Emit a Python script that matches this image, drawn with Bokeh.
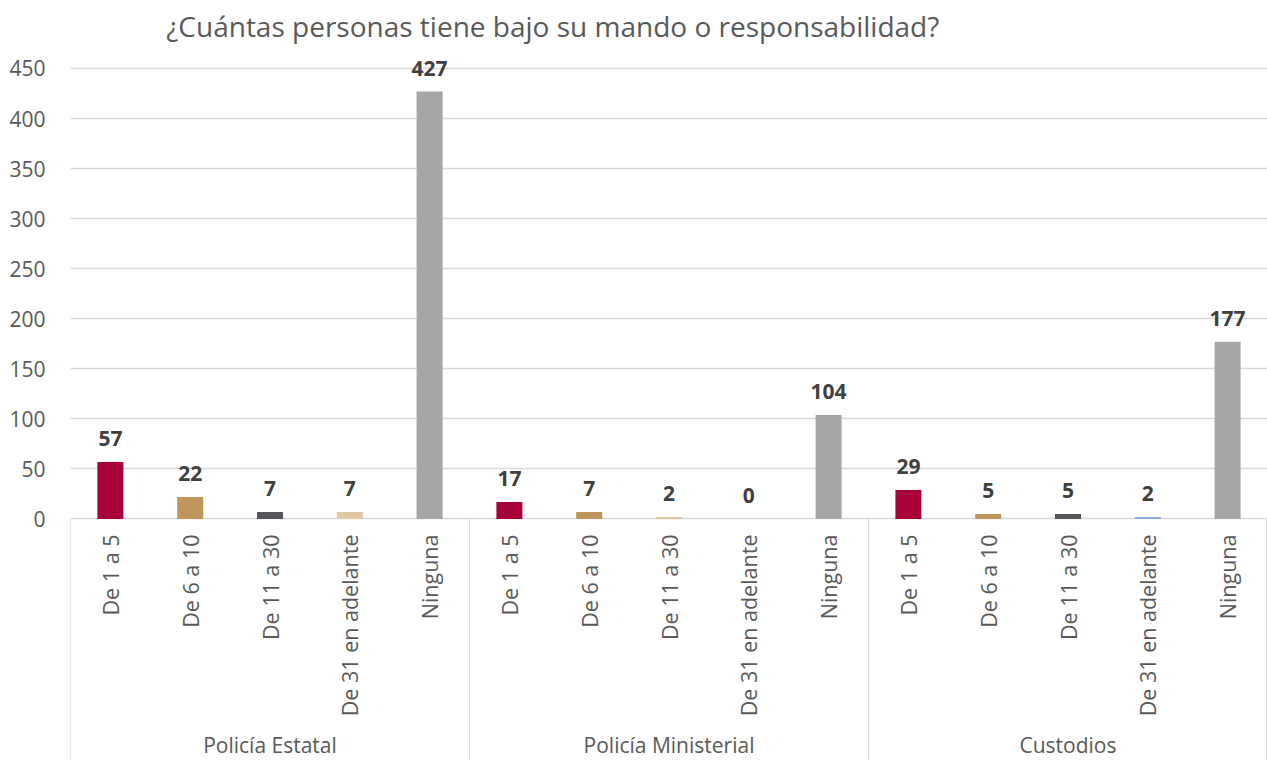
import math
from bokeh.plotting import figure
from bokeh.models import Range1d, FixedTicker, ColumnDataSource
from bokeh.core.properties import value
from bokeh.embed import file_html
from bokeh.resources import INLINE

title_text = "¿Cuántas personas tiene bajo su mando o responsabilidad?"
groups = ["Policía Estatal", "Policía Ministerial", "Custodios"]
categories = ["De 1 a 5", "De 6 a 10", "De 11 a 30", "De 31 en adelante", "Ninguna"]
estatal = [57, 22, 7, 7, 427]
ministerial = [17, 7, 2, 0, 104]
custodios = [29, 5, 5, 2, 177]
y_ticks = [0, 50, 100, 150, 200, 250, 300, 350, 400, 450]

RED, TAN, DARK, BEIGE, GREY, BLUE = "#A8003A", "#BE955A", "#55565A", "#DEC9A2", "#A6A6A6", "#8EA9DB"
estatal_colors = [RED, TAN, DARK, BEIGE, GREY]
ministerial_colors = [RED, TAN, BEIGE, BEIGE, GREY]
custodios_colors = [RED, TAN, DARK, BLUE, GREY]

FONT = value("Open Sans")
TXT = "#595959"
LINE = "#D9D9D9"

series = [estatal, ministerial, custodios]
colors = [estatal_colors, ministerial_colors, custodios_colors]
n_cat = len(categories)
n_all = n_cat * len(groups)

xs, tops, cols, labels, cat_names = [], [], [], [], []
for gi, (vals, cl) in enumerate(zip(series, colors)):
    for ci, v in enumerate(vals):
        xs.append(gi * n_cat + ci + 0.5)
        tops.append(v)
        cols.append(cl[ci])
        labels.append(str(v))
        cat_names.append(categories[ci])

src = ColumnDataSource(dict(x=xs, top=tops, color=cols, label=labels, cat=cat_names))

y_low, y_high = -241.23, 517.92
p = figure(width=1267, height=760, output_backend="svg", toolbar_location=None,
           x_range=Range1d(0, n_all), y_range=Range1d(y_low, y_high),
           x_axis_type=None, min_border_left=70, min_border_right=0,
           min_border_top=0, min_border_bottom=0)
p.outline_line_color = None
p.xgrid.visible = False
p.ygrid.ticker = FixedTicker(ticks=y_ticks)
p.ygrid.grid_line_color = LINE
p.ygrid.grid_line_width = 1.3

ax = p.yaxis[0]
ax.ticker = FixedTicker(ticks=y_ticks)
ax.axis_line_color = None
ax.major_tick_line_color = None
ax.minor_tick_line_color = None
ax.major_label_text_font = "Open Sans"
ax.major_label_text_font_size = "21px"
ax.major_label_text_color = TXT
ax.major_label_standoff = 19

p.vbar(x="x", top="top", bottom=0, width=0.326, fill_color="color", line_color=None, source=src)

# data labels
p.text(x="x", y="top", text="label", source=src, text_font=FONT, text_font_size="21px",
       text_font_style="bold", text_color="#404040", text_align="center",
       text_baseline="alphabetic", y_offset=-23)

# category labels (rotated)
p.text(x="x", y=-15.5, text="cat", source=src, text_font=FONT, text_font_size="21.5px",
       text_color=TXT, angle=math.pi / 2, text_align="right", text_baseline="middle")

# group labels
gx = [gi * n_cat + n_cat / 2 for gi in range(len(groups))]
p.text(x=gx, y=[-225.5] * len(groups), text=groups, text_font=FONT, text_font_size="21px",
       text_color=TXT, text_align="center", text_baseline="alphabetic")

# category box separators
sep_x = [gi * n_cat for gi in range(len(groups))] + [n_all - 0.01]
p.segment(x0=sep_x, y0=[0] * len(sep_x), x1=sep_x, y1=[y_low] * len(sep_x),
          line_color=LINE, line_width=1.3)

# title
p.text(x=[1.2], y=[492], text=[title_text], text_font=FONT, text_font_size="28px",
       text_color=TXT, text_align="left", text_baseline="alphabetic")

open("out.html", "w").write(file_html(p, INLINE))
